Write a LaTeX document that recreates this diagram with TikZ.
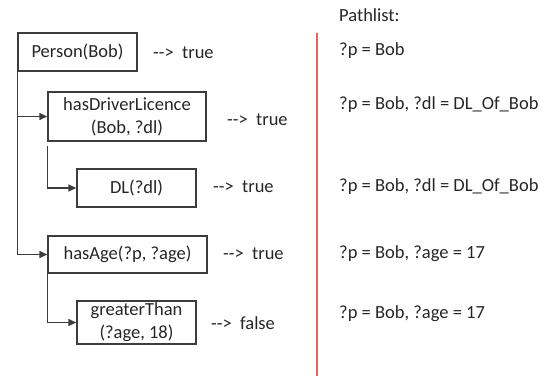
\documentclass[tikz,border=0pt]{standalone}
\usepackage{fontspec}
\setmainfont{Carlito}
\usetikzlibrary{arrows.meta}
\definecolor{ink}{RGB}{38,38,38}
\definecolor{linegray}{RGB}{60,60,60}
\definecolor{divider}{RGB}{240,96,96}
\tikzset{
  goal/.style={draw=linegray, line width=1.4pt, fill=white, inner sep=0pt,
               align=center, text=ink, font=\fontsize{18.5}{23}\selectfont},
  note/.style={anchor=west, inner sep=0pt, text=ink, font=\fontsize{18.5}{23}\selectfont},
  link/.style={draw=linegray, line width=1.4pt, -{Triangle[length=8pt,width=7pt]}},
}
\begin{document}
\begin{tikzpicture}[x=1pt, y=-1pt]
  \useasboundingbox (0,0) rectangle (556,378);

  % goal boxes
  \node[goal, minimum width=119pt, minimum height=38pt] (person) at (77.5,52) {Person(Bob)};
  \node[goal, minimum width=158pt, minimum height=49pt] (hdl) at (127,116.5) {hasDriverLicence\\(Bob, ?dl)};
  \node[goal, minimum width=119pt, minimum height=38pt] (dl) at (136.5,188) {DL(?dl)};
  \node[goal, minimum width=159pt, minimum height=37pt] (age) at (127.5,254.5) {hasAge(?p, ?age)};
  \node[goal, minimum width=119pt, minimum height=43pt] (gt) at (136.5,322.5) {greaterThan\\(?age, 18)};

  % tree connectors
  \draw[link] (person.south west) |- (hdl.west);
  \draw[link] (person.south west) |- (age.west);
  \coordinate (hdlfoot) at ([yshift=-4pt]hdl.south west);
  \draw[link] (hdlfoot) |- (dl.west);
  \draw[link] (age.south west) |- (gt.west);

  % results
  \node[note] (r1) at (153,53) {-{}->~~true};
  \node[note] (r2) at (227,120) {-{}->~~true};
  \node[note] (r3) at (213,187) {-{}->~~true};
  \node[note] (r4) at (223,254) {-{}->~~true};
  \node[note] (r5) at (211,323) {-{}->~~false};

  % divider
  \coordinate (dtop) at (317,33);
  \coordinate (dbot) at (317,376);
  \draw[divider, line width=2pt] (dtop) -- (dbot);

  % path list
  \node[note] (plh) at (339,15) {Pathlist:};
  \node[note] (p1) at (339,51) {?p = Bob};
  \node[note] (p2) at (339,105) {?p = Bob, ?dl = DL\_Of\_Bob};
  \node[note] (p3) at (339,187) {?p = Bob, ?dl = DL\_Of\_Bob};
  \node[note] (p4) at (339,254) {?p = Bob, ?age = 17};
  \node[note] (p5) at (339,314) {?p = Bob, ?age = 17};
\end{tikzpicture}
\end{document}
